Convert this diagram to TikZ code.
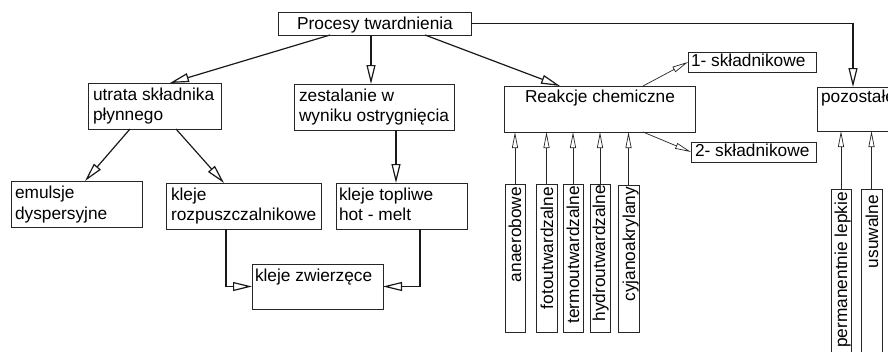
\documentclass[tikz,border=0pt]{standalone}
\usepackage{fontspec}
\setmainfont{Liberation Sans}
\usetikzlibrary{arrows.meta,calc}
\begin{document}
\begin{tikzpicture}[x=1pt,y=-1pt,
  every node/.style={inner sep=0pt, outer sep=0pt},
  box/.style={draw=black!85, line width=0.9pt, anchor=north west},
  txt/.style={font=\fontsize{17.3}{20}\selectfont, anchor=base west},
  ctxt/.style={font=\fontsize{17.3}{20}\selectfont, anchor=base},
  vtxt/.style={font=\fontsize{17.3}{20}\selectfont, rotate=90, anchor=base east},
  arr/.style={line width=1.2pt, draw=black!90, -{Triangle[open, length=19pt, width=9pt]}},
  tarr/.style={line width=0.7pt, draw=black!85, -{Triangle[open, length=16pt, width=6pt]}}]
\useasboundingbox (0,0) rectangle (888,351);
\clip (0,0) rectangle (888,351);
\fill[white] (0,0) rectangle (888,351);

% boxes
\node[box, minimum width=193, minimum height=23] (proc) at (278,12) {};
\node[ctxt] (proct) at (375,29) {Procesy twardnienia};

\node[box, minimum width=133, minimum height=46] (utr) at (88,83) {};
\node[txt] (utr1) at (93,100.5) {utrata składnika};
\node[txt] (utr2) at (93,120.8) {płynnego};

\node[box, minimum width=160, minimum height=46] (zes) at (294,84) {};
\node[txt] (zes1) at (299,101) {zestalanie w};
\node[txt] (zes2) at (299,121.5) {wyniku ostrygnięcia};

\node[box, minimum width=191, minimum height=46] (rea) at (504,86) {};
\node[ctxt] (reat) at (600,102) {Reakcje chemiczne};

\node[box, minimum width=128, minimum height=20] (sk1) at (688,52) {};
\node[txt] (sk1t) at (691,66.5) {1- składnikowe};

\node[box, minimum width=125, minimum height=20] (sk2) at (691,142) {};
\node[txt] (sk2t) at (695,156.5) {2- składnikowe};

\node[box, minimum width=100, minimum height=44] (poz) at (817,87) {};
\node[txt] (pozt) at (821,102) {pozostałe};

\node[box, minimum width=131, minimum height=46] (emu) at (11,181) {};
\node[txt] (emu1) at (15,198.5) {emulsje};
\node[txt] (emu2) at (15,219) {dyspersyjne};

\node[box, minimum width=155, minimum height=46] (roz) at (166,183) {};
\node[txt] (roz1) at (171,200) {kleje};
\node[txt] (roz2) at (171,220.7) {rozpuszczalnikowe};

\node[box, minimum width=131, minimum height=46] (top) at (336,183) {};
\node[txt] (top1) at (339,200) {kleje topliwe};
\node[txt] (top2) at (339,220.7) {hot - melt};

\node[box, minimum width=131, minimum height=45] (zwi) at (252,264) {};
\node[txt] (zwit) at (255,281) {kleje zwierzęce};

% vertical boxes
\node[box, minimum width=20, minimum height=148] (v1) at (505,184) {};
\node[vtxt] (v1t) at ($(v1.north east)+(-4,3)$) {anaerobowe};
\node[box, minimum width=21, minimum height=148] (v2) at (536,184) {};
\node[vtxt] (v2t) at ($(v2.north east)+(-4,3)$) {fotoutwardzalne};
\node[box, minimum width=20, minimum height=148] (v3) at (563,184) {};
\node[vtxt] (v3t) at ($(v3.north east)+(-4,2)$) {termoutwardzalne};
\node[box, minimum width=20, minimum height=148] (v4) at (590,184) {};
\node[vtxt] (v4t) at ($(v4.north east)+(-5,1)$) {hydroutwardzalne};
\node[box, minimum width=21, minimum height=147] (v5) at (618,185) {};
\node[vtxt] (v5t) at ($(v5.north east)+(-4,2)$) {cyjanoakrylany};
\node[box, minimum width=20, minimum height=200] (v6) at (831,189) {};
\node[vtxt] (v6t) at ($(v6.north east)+(-4,3)$) {permanentnie lepkie};
\node[box, minimum width=21, minimum height=200] (v7) at (861,189) {};
\node[vtxt] (v7t) at ($(v7.north east)+(-4,6)$) {usuwalne};

% connectors
\draw[arr] ($(proc.south west)+(52,0)$) -- ($(utr.north west)+(82,0)$);
\draw[arr] ($(proc.south west)+(93,0)$) -- ($(zes.north west)+(77,0)$);
\draw[arr] ($(proc.south west)+(147,0)$) -- ($(rea.north west)+(56,0)$);
\coordinate (pozin) at ($(poz.north west)+(36,0)$);
\draw[arr] (proc.east) -| (pozin);
\draw[arr] ($(utr.south west)+(42,0)$) -- ($(emu.north west)+(74,0)$);
\draw[arr] ($(utr.south west)+(88,0)$) -- ($(roz.north west)+(58,0)$);
\draw[arr] ($(zes.south west)+(102,0)$) -- ($(top.north west)+(60,0)$);
\draw[arr] ($(roz.south west)+(60,0)$) |- (zwi.west);
\draw[arr] ($(top.south west)+(84,0)$) |- (zwi.east);
\draw[tarr] ($(rea.north west)+(139,0)$) -- (sk1.west);
\draw[tarr] ($(rea.south west)+(139,0)$) -- (sk2.west);
\foreach \v in {v1,v2,v3,v4,v5} {
  \draw[tarr] (\v.north) -- (\v.north |- rea.south);
}
\foreach \v in {v6,v7} {
  \draw[tarr] (\v.north) -- (\v.north |- poz.south);
}
\end{tikzpicture}
\end{document}
